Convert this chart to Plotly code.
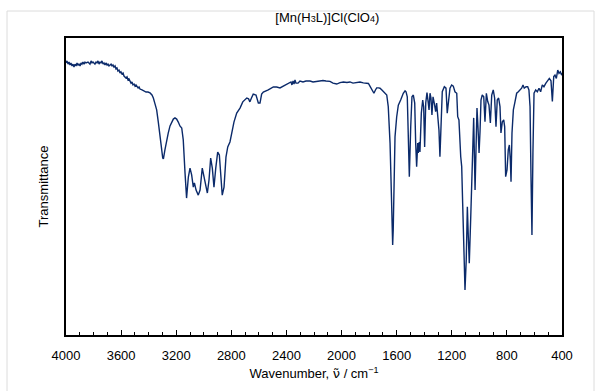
import plotly.graph_objects as go

# IR spectrum of [Mn(H3L)]Cl(ClO4): wavenumber (cm^-1) and transmittance (%)
wavenumber = [
    4000, 3993, 3985, 3978, 3971, 3964, 3956, 3949, 3942, 3935, 3927, 3920, 3913, 3906, 3898,
    3891, 3884, 3877, 3869, 3862, 3855, 3840, 3826, 3818, 3811, 3804, 3790, 3782, 3775, 3768,
    3760, 3753, 3746, 3739, 3731, 3724, 3717, 3710, 3702, 3695, 3688, 3681, 3673, 3666, 3659,
    3652, 3644, 3637, 3630, 3623, 3615, 3608, 3601, 3594, 3586, 3579, 3572, 3565, 3557, 3550,
    3543, 3536, 3528, 3521, 3514, 3506, 3499, 3492, 3485, 3477, 3470, 3463, 3448, 3434, 3419,
    3405, 3390, 3376, 3366, 3354, 3342, 3330, 3318, 3307, 3298, 3293, 3282, 3269, 3258, 3245,
    3233, 3221, 3209, 3197, 3185, 3173, 3160, 3149, 3136, 3125, 3112, 3100, 3088, 3076, 3068,
    3056, 3040, 3027, 3011, 2998, 2986, 2974, 2962, 2950, 2938, 2926, 2913, 2899, 2887, 2877,
    2866, 2853, 2839, 2826, 2810, 2797, 2781, 2761, 2737, 2717, 2688, 2675, 2665, 2654, 2641,
    2621, 2604, 2592, 2580, 2568, 2532, 2495, 2471, 2447, 2423, 2387, 2367, 2360, 2352, 2345,
    2338, 2331, 2316, 2302, 2280, 2258, 2229, 2207, 2180, 2156, 2135, 2113, 2084, 2062, 2035,
    2011, 1987, 1961, 1939, 1917, 1890, 1866, 1842, 1822, 1805, 1794, 1781, 1772, 1765, 1754,
    1745, 1732, 1721, 1707, 1692, 1672, 1661, 1648, 1641, 1636, 1629, 1625, 1619, 1612, 1600,
    1588, 1571, 1552, 1539, 1532, 1523, 1516, 1508, 1498, 1489, 1479, 1469, 1462, 1455, 1447,
    1443, 1436, 1431, 1421, 1411, 1404, 1397, 1389, 1380, 1373, 1365, 1358, 1351, 1344, 1336,
    1327, 1317, 1310, 1300, 1293, 1286, 1278, 1269, 1254, 1242, 1233, 1225, 1213, 1201, 1189,
    1177, 1164, 1157, 1148, 1135, 1128, 1121, 1111, 1104, 1095, 1087, 1080, 1073, 1063, 1051,
    1041, 1031, 1024, 1017, 1010, 1002, 995, 988, 979, 968, 959, 949, 939, 930, 920,
    910, 899, 889, 879, 870, 860, 850, 843, 833, 823, 816, 809, 799, 790, 782,
    775, 770, 763, 753, 741, 729, 717, 705, 693, 683, 674, 661, 649, 640, 632,
    625, 618, 611, 603, 591, 579, 567, 555, 543, 531, 518, 504, 492, 480, 470,
    460, 451, 441, 431, 422, 412, 402, 400,
]
transmittance = [
    91.6, 92.3, 91.2, 91.9, 90.9, 91.6, 90.6, 91.2, 90.2, 91.2, 90.6, 91.6, 90.9, 91.2, 90.6,
    91.6, 91.2, 91.9, 91.2, 91.9, 91.6, 91.9, 91.2, 92.3, 91.6, 91.9, 91.2, 91.9, 91.6, 92.3,
    91.2, 91.9, 91.6, 92.3, 91.2, 91.6, 90.9, 91.6, 90.9, 91.2, 90.6, 90.9, 91.2, 90.6, 90.9,
    90.2, 90.6, 89.6, 89.9, 88.9, 89.2, 88.2, 88.6, 87.9, 88.2, 87.2, 86.9, 86.5, 86.9, 85.9,
    86.2, 85.2, 84.8, 85.2, 84.2, 84.5, 83.8, 84.2, 83.5, 83.2, 83.5, 82.8, 82.5, 82.2, 81.8,
    81.8, 81.5, 80.8, 79.8, 77.8, 75.8, 71.7, 68.0, 63.0, 59.6, 59.3, 62.3, 66.3, 68.0, 70.4,
    71.7, 72.7, 73.1, 72.7, 71.7, 70.4, 69.7, 65.7, 54.5, 46.1, 53.2, 56.2, 53.9, 49.8, 51.2,
    48.8, 47.1, 48.8, 56.2, 53.2, 49.8, 47.8, 52.2, 59.6, 56.2, 49.8, 56.2, 61.6, 60.6, 54.5,
    47.1, 49.8, 59.9, 63.3, 65.0, 68.0, 71.7, 74.7, 76.4, 78.5, 79.8, 79.5, 78.5, 79.8, 81.1,
    80.8, 78.1, 78.1, 81.1, 81.8, 82.5, 83.5, 83.5, 83.2, 83.8, 84.5, 85.2, 84.2, 85.5, 84.5,
    85.9, 84.8, 84.8, 85.5, 85.2, 85.5, 85.5, 85.2, 85.4, 85.5, 85.7, 85.5, 85.4, 84.8, 84.5,
    85.0, 85.2, 85.0, 85.2, 84.8, 84.9, 85.2, 84.9, 84.8, 84.7, 83.8, 82.5, 81.5, 81.4, 82.5,
    83.2, 83.2, 83.1, 82.5, 81.9, 80.8, 76.9, 64.6, 52.2, 42.1, 30.3, 35.4, 47.8, 66.7, 73.4,
    77.4, 79.1, 81.4, 82.2, 81.9, 80.2, 64.6, 53.3, 70.1, 80.2, 80.8, 78.1, 64.6, 56.7, 64.6,
    61.3, 65.0, 61.6, 74.7, 79.1, 76.8, 63.3, 78.1, 81.6, 79.1, 75.8, 81.4, 79.8, 74.1, 80.2,
    78.1, 75.2, 78.1, 71.4, 69.0, 60.0, 73.5, 81.9, 83.6, 83.1, 74.7, 77.4, 83.1, 84.2, 83.8,
    81.9, 81.4, 73.5, 72.4, 60.0, 56.7, 44.4, 25.3, 15.2, 25.3, 43.2, 33.1, 24.2, 38.7, 62.3,
    73.1, 48.8, 68.0, 76.4, 70.1, 61.3, 68.5, 79.1, 80.8, 80.2, 71.8, 81.4, 78.6, 77.4, 71.4,
    80.8, 82.5, 79.8, 70.1, 79.1, 79.8, 76.9, 68.0, 71.8, 72.4, 70.1, 53.3, 55.6, 62.3, 64.0,
    58.9, 51.6, 68.0, 75.8, 78.6, 81.4, 81.9, 82.5, 83.1, 84.2, 83.1, 83.6, 83.6, 82.5, 76.9,
    53.3, 33.7, 61.3, 81.4, 82.5, 81.9, 83.1, 81.9, 84.2, 83.6, 84.7, 85.9, 86.4, 85.6, 78.6,
    87.0, 87.5, 86.4, 89.2, 88.1, 88.6, 87.5, 88.2,
]

x_ticks = [4000, 3600, 3200, 2800, 2400, 2000, 1600, 1200, 800, 400]

FONT = "Liberation Sans, Arial, Helvetica, sans-serif"
LINE_COLOR = "#0b2a6a"

fig = go.Figure(
    go.Scatter(
        x=wavenumber,
        y=transmittance,
        mode="lines",
        line=dict(color=LINE_COLOR, width=1.4),
        hoverinfo="x+y",
    )
)

fig.update_layout(
    width=596,
    height=391,
    margin=dict(l=66, r=34, t=38, b=56),
    paper_bgcolor="white",
    plot_bgcolor="white",
    showlegend=False,
    font=dict(family=FONT, size=13, color="black"),
    title=dict(
        text="[Mn(H<span style='font-size:9px'>3</span>L)]Cl(ClO<span style='font-size:9px'>4</span>)",
        x=314 / 596,
        xref="paper",
        xanchor="center",
        y=1 - 17 / 391,
        yanchor="middle",
        font=dict(family=FONT, size=13, color="black"),
    ),
    xaxis=dict(
        range=[4000, 400],
        tickvals=x_ticks,
        ticks="inside",
        ticklen=5,
        tickwidth=1,
        tickcolor="black",
        ticklabelstandoff=8,
        minor=dict(dtick=100, tick0=0, ticks="inside", ticklen=3, tickwidth=1, tickcolor="black"),
        showgrid=False,
        zeroline=False,
        showline=True,
        linecolor="black",
        linewidth=1.5,
        mirror=True,
        tickfont=dict(family=FONT, size=13, color="black"),
        title=dict(
            text="Wavenumber, <span style='font-family:DejaVu Sans'>ν\u0303</span> / cm<sup>−1</sup>",
            font=dict(family=FONT, size=13, color="black"),
            standoff=7,
        ),
    ),
    yaxis=dict(
        range=[0, 100],
        showticklabels=False,
        ticks="",
        showgrid=False,
        zeroline=False,
        showline=True,
        linecolor="black",
        linewidth=1.5,
        mirror=True,
        title=dict(
            text="Transmittance",
            font=dict(family=FONT, size=13, color="black"),
            standoff=13,
        ),
    ),
)

# light outer frame around the figure
frame = dict(type="line", xref="paper", yref="paper", line=dict(color="#dcdcdc", width=1))
fig.add_shape(**frame, x0=-59 / 496, x1=-59 / 496, y0=-0.3, y1=324 / 297)
fig.add_shape(**frame, x0=-59 / 496, x1=528 / 496, y0=324 / 297, y1=324 / 297)
fig.add_shape(**frame, x0=528 / 496, x1=528 / 496, y0=-0.3, y1=324 / 297)

fig.write_html("out.html")
